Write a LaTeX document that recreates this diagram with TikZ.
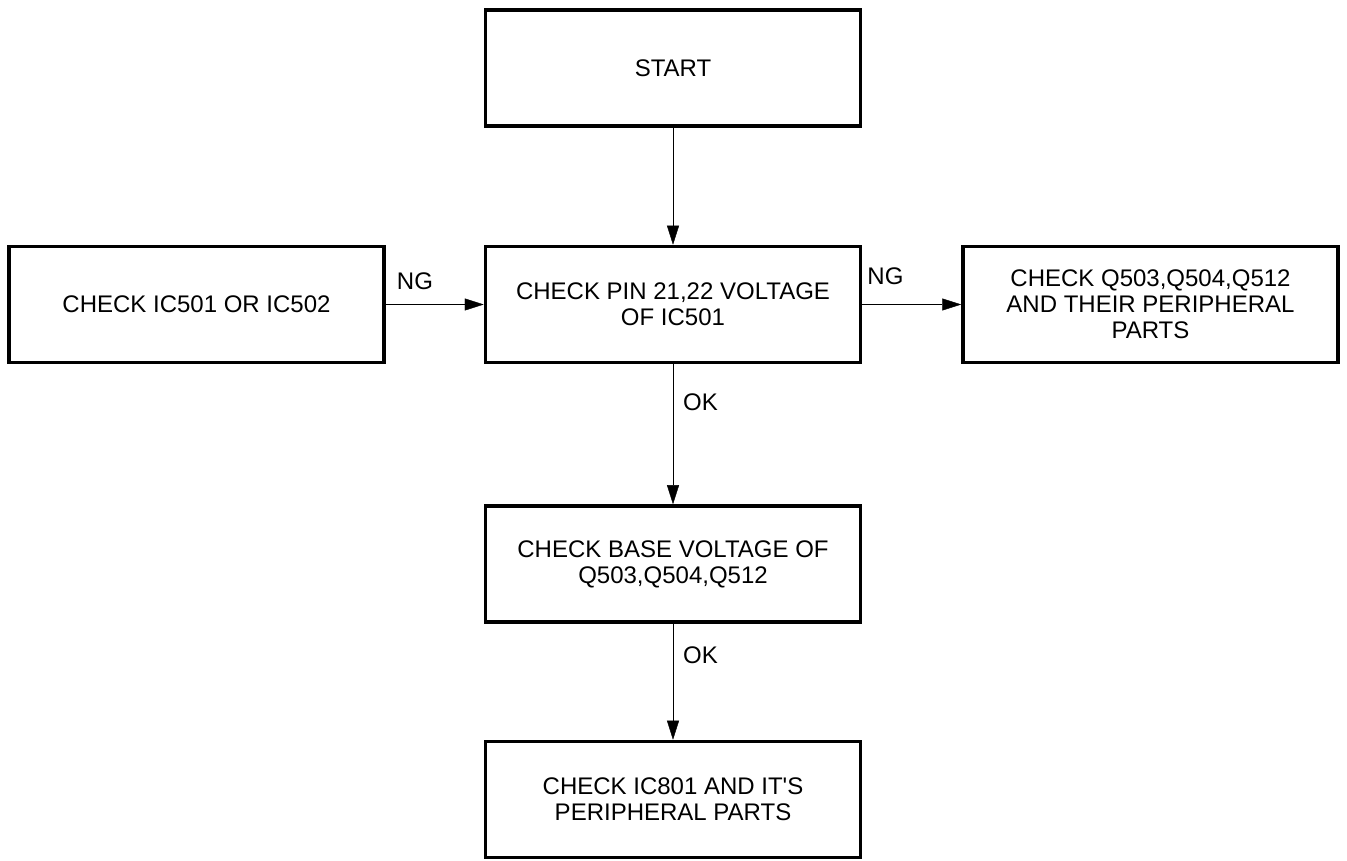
\documentclass[tikz,border=0pt]{standalone}
\usepackage{fontspec}
\setmainfont{Liberation Sans}
\usetikzlibrary{arrows.meta,positioning}
\tikzset{
    %Define standard arrow tip
    >={Triangle[length=19pt,width=12pt]},
    line width=1.3pt,
    stepbox/.style={
      rectangle,
      draw=black, line width=3.5pt,
      minimum width=375pt,
      minimum height=116pt,
      inner sep=0pt,
      align=center,
      font=\fontsize{24}{26}\selectfont},
    tag/.style={
      inner sep=0pt,
      font=\fontsize{24}{26}\selectfont},
}

\begin{document}
\begin{tikzpicture}[x=1pt,y=1pt]
    \useasboundingbox (0,0) rectangle (1347,860);
    \node (start) [stepbox] at (673,792)
          {START};
    \node (pin) [stepbox] [below=117pt of start]
          {CHECK PIN 21,22 VOLTAGE\\OF IC501};
    \node (ic) [stepbox] [left=98pt of pin]
          {CHECK IC501 OR IC502};
    \node (trans) [stepbox] [right=99pt of pin]
          {CHECK Q503,Q504,Q512\\AND THEIR PERIPHERAL\\PARTS};
    \node (base) [stepbox] [below=140pt of pin]
          {CHECK BASE VOLTAGE OF\\Q503,Q504,Q512};
    \node (final) [stepbox] [below=116pt of base]
          {CHECK IC801 AND IT\textquotesingle S\\PERIPHERAL PARTS};
    % connectors
    \draw [->] (start) -- (pin);
    \draw [->] (ic) -- node [tag, pos=0, anchor=south west, xshift=11pt, yshift=15pt] {NG} (pin);
    \draw [->] (pin) -- node [tag, pos=0, anchor=south west, xshift=5pt, yshift=20pt] {NG} (trans);
    \draw [->] (pin) -- node [tag, pos=0.27, anchor=west, xshift=10pt] {OK} (base);
    \draw [->] (base) -- node [tag, pos=0.27, anchor=west, xshift=10pt] {OK} (final);
\end{tikzpicture}
\end{document}
